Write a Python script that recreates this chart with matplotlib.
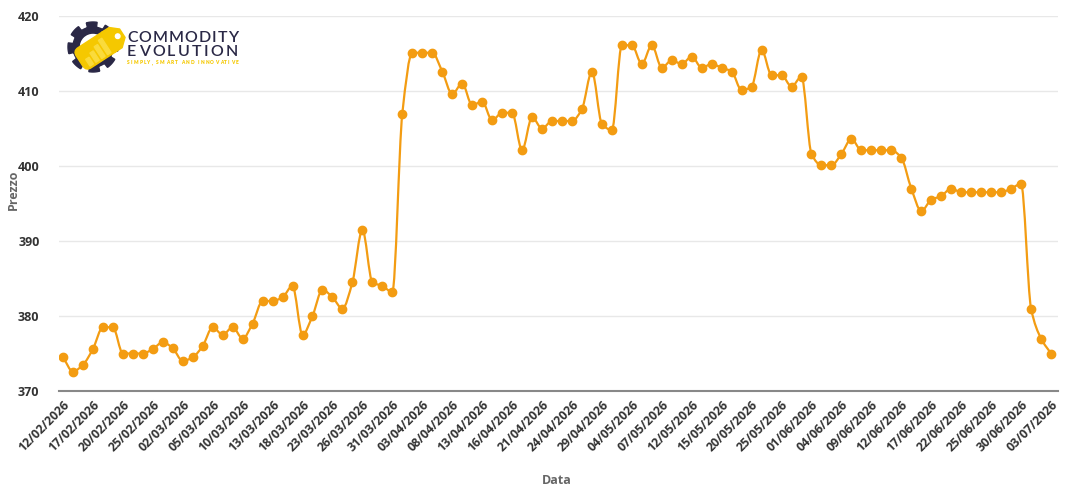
import numpy as np
import matplotlib
matplotlib.use("Agg")
import matplotlib.pyplot as plt
from matplotlib.path import Path
from matplotlib.patches import PathPatch, Polygon, Circle, FancyBboxPatch
import matplotlib.transforms as mtransforms

# data
dates = ["12/02/2026", "13/02/2026", "16/02/2026", "17/02/2026", "18/02/2026", "19/02/2026",
         "20/02/2026", "23/02/2026", "24/02/2026", "25/02/2026", "26/02/2026", "27/02/2026",
         "02/03/2026", "03/03/2026", "04/03/2026", "05/03/2026", "06/03/2026", "09/03/2026",
         "10/03/2026", "11/03/2026", "12/03/2026", "13/03/2026", "16/03/2026", "17/03/2026",
         "18/03/2026", "19/03/2026", "20/03/2026", "23/03/2026", "24/03/2026", "25/03/2026",
         "26/03/2026", "27/03/2026", "30/03/2026", "31/03/2026", "01/04/2026", "02/04/2026",
         "03/04/2026", "06/04/2026", "07/04/2026", "08/04/2026", "09/04/2026", "10/04/2026",
         "13/04/2026", "14/04/2026", "15/04/2026", "16/04/2026", "17/04/2026", "20/04/2026",
         "21/04/2026", "22/04/2026", "23/04/2026", "24/04/2026", "27/04/2026", "28/04/2026",
         "29/04/2026", "30/04/2026", "01/05/2026", "04/05/2026", "05/05/2026", "06/05/2026",
         "07/05/2026", "08/05/2026", "11/05/2026", "12/05/2026", "13/05/2026", "14/05/2026",
         "15/05/2026", "18/05/2026", "19/05/2026", "20/05/2026", "21/05/2026", "22/05/2026",
         "25/05/2026", "27/05/2026", "29/05/2026", "01/06/2026", "02/06/2026", "03/06/2026",
         "04/06/2026", "05/06/2026", "08/06/2026", "09/06/2026", "10/06/2026", "11/06/2026",
         "12/06/2026", "15/06/2026", "16/06/2026", "17/06/2026", "18/06/2026", "19/06/2026",
         "22/06/2026", "23/06/2026", "24/06/2026", "25/06/2026", "26/06/2026", "29/06/2026",
         "30/06/2026", "01/07/2026", "02/07/2026", "03/07/2026"]

prices = [374.5, 372.6, 373.5, 375.6, 378.5, 378.5, 375.0, 375.0, 375.0, 375.6,
          376.5, 375.7, 374.0, 374.5, 376.0, 378.5, 377.5, 378.5, 377.0, 379.0,
          382.0, 382.0, 382.5, 384.0, 377.5, 380.0, 383.5, 382.5, 381.0, 384.5,
          391.5, 384.5, 384.0, 383.2, 407.0, 415.1, 415.1, 415.1, 412.6, 409.6,
          411.0, 408.1, 408.6, 406.1, 407.1, 407.1, 402.1, 406.5, 405.0, 406.0,
          406.0, 406.0, 407.6, 412.6, 405.6, 404.8, 416.1, 416.1, 413.6, 416.1,
          413.1, 414.1, 413.6, 414.6, 413.1, 413.6, 413.1, 412.6, 410.1, 410.6,
          415.5, 412.1, 412.1, 410.6, 411.9, 401.6, 400.1, 400.1, 401.6, 403.6,
          402.1, 402.1, 402.1, 402.1, 401.1, 397.0, 394.0, 395.5, 396.0, 397.0,
          396.5, 396.5, 396.5, 396.5, 396.5, 397.0, 397.6, 381.0, 377.0, 375.0]

y_ticks = [370, 380, 390, 400, 410, 420]

line_color = "#f39c12"
FONT = ["Open Sans", "DejaVu Sans"]


def monotone_path(x, y):
    # smooth monotone cubic (Fritsch-Carlson) drawn as bezier segments
    x = np.asarray(x, float)
    y = np.asarray(y, float)
    h = np.diff(x)
    d = np.diff(y) / h
    m = np.zeros_like(y)
    m[0], m[-1] = d[0], d[-1]
    for i in range(1, len(y) - 1):
        if d[i - 1] * d[i] <= 0:
            m[i] = 0
        else:
            m[i] = 2 / (1 / d[i - 1] + 1 / d[i])
    verts = [(x[0], y[0])]
    codes = [Path.MOVETO]
    for i in range(len(x) - 1):
        verts += [(x[i] + h[i] / 3, y[i] + m[i] * h[i] / 3),
                  (x[i + 1] - h[i] / 3, y[i + 1] - m[i + 1] * h[i] / 3),
                  (x[i + 1], y[i + 1])]
        codes += [Path.CURVE4] * 3
    return Path(verts, codes)


fig = plt.figure(figsize=(10.8, 4.92), dpi=100)
ax = fig.add_axes([59 / 1080, 101 / 492, 999 / 1080, 375 / 492])

xs = np.arange(len(prices))
ax.add_patch(PathPatch(monotone_path(xs, prices), fill=False, edgecolor=line_color,
                       lw=1.6, zorder=3))
ax.plot(xs, prices, "o", color=line_color, markersize=6, zorder=4)

ax.set_xlim(-0.4, len(prices) - 0.3)
ax.set_ylim(370, 420)
ax.set_yticks(y_ticks)
ax.set_yticklabels([str(v) for v in y_ticks], family=FONT, fontweight="bold",
                   fontsize=9, color="#333333")
tick_idx = list(range(0, len(dates), 3))
ax.set_xticks(tick_idx)
ax.set_xticklabels([dates[i] for i in tick_idx], rotation=45, ha="right",
                   rotation_mode="anchor", family=FONT, fontweight="bold",
                   fontsize=8.8, color="#333333")
ax.tick_params(axis="both", length=0, pad=5)
ax.tick_params(axis="y", pad=14)

ax.grid(axis="y", color="#e8e8e8", lw=1)
ax.set_axisbelow(True)
for s in ["top", "right", "left"]:
    ax.spines[s].set_visible(False)
ax.spines["bottom"].set_color("#888888")
ax.spines["bottom"].set_linewidth(1.5)

fig.text(557 / 1080, 1 - 481 / 492, "Data", ha="center", va="center", family=FONT,
         fontweight="bold", fontsize=9, color="#666666")
fig.text(13 / 1080, 1 - 190 / 492, "Prezzo", ha="center", va="center", rotation=90,
         family=FONT, fontweight="bold", fontsize=9, color="#666666")

# logo
lg = fig.add_axes([60 / 1080, 1 - 78 / 492, 190 / 1080, 60 / 492])
lg.set_xlim(0, 190)
lg.set_ylim(60, 0)
lg.axis("off")
navy = "#2a2846"
yellow = "#f5c800"

cx, cy = 33, 29
ang = np.linspace(0, 2 * np.pi, 721)
r_out = 25 - 5 * (np.cos(8 * ang + 0.4) < -0.2)
gear = np.column_stack([cx + r_out * np.cos(ang), cy + r_out * np.sin(ang)])
lg.add_patch(Polygon(gear, closed=True, color=navy, zorder=1))
lg.add_patch(Circle((cx, cy), 12.5, color="white", zorder=2))

# tag, rising to the upper right
tr = mtransforms.Affine2D().rotate_deg(-33).translate(38, 31) + lg.transData
tag = FancyBboxPatch((-22, -12), 40, 24, boxstyle="round,pad=0,rounding_size=6",
                     color=yellow, zorder=3)
tag.set_transform(tr)
lg.add_patch(tag)
tip = Polygon([(12, -12), (21, -12), (29, -5), (29, 5), (21, 12), (12, 12)],
              closed=True, color=yellow, zorder=3)
tip.set_transform(tr)
lg.add_patch(tip)
hole = Circle((23.5, 0), 2.3, color="white", zorder=4)
hole.set_transform(tr)
lg.add_patch(hole)
for bx, bh in zip([-16, -9, -2, 5], [8, 11, 14, 17]):
    bar = Polygon([(bx, 10), (bx + 4, 10), (bx + 4, 10 - bh), (bx, 10 - bh)], closed=True,
                  color="#fadb3c", zorder=4)
    bar.set_transform(tr)
    lg.add_patch(bar)

renderer = fig.canvas.get_renderer()


def spaced(text, x0, x1, y, size, color, weight):
    # letters spread evenly between x0 and x1 (pixel units of the logo axes)
    arts = [lg.text(0, y, ch, ha="left", va="center", fontsize=size,
                    family=["Lato", "DejaVu Sans"], fontweight=weight, color=color, zorder=5)
            for ch in text]
    widths = [a.get_window_extent(renderer).width if ch != " " else size * 0.35
              for a, ch in zip(arts, text)]
    gap = (x1 - x0 - sum(widths)) / (len(text) - 1)
    x = x0
    for a, w in zip(arts, widths):
        a.set_x(x)
        x += w + gap


spaced("COMMODITY", 67, 178, 20, 11.5, navy, "semibold")
spaced("EVOLUTION", 67, 178, 34, 11.5, navy, "semibold")
spaced("SIMPLY, SMART AND INNOVATIVE", 67, 178, 44.5, 3.4, yellow, "heavy")

fig.savefig("out.png", dpi=100, facecolor="white")
